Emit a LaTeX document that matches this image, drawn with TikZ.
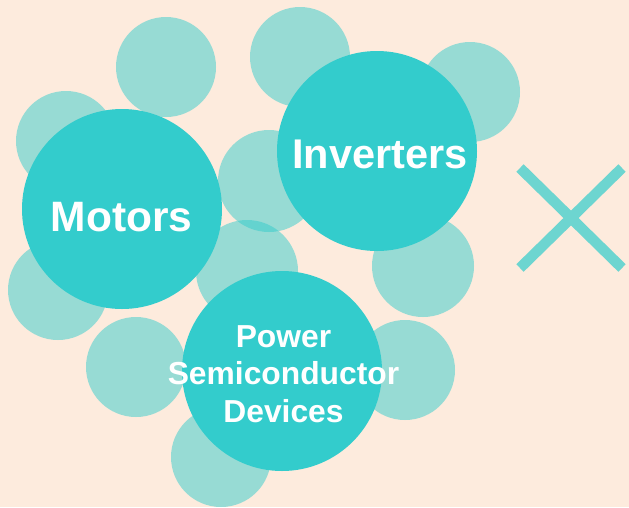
\documentclass[tikz,border=0pt]{standalone}
\usepackage{fontspec}
\setmainfont{Liberation Sans}
\definecolor{bgpeach}{HTML}{FDEBDD}
\definecolor{tealc}{HTML}{33CCCC}
\definecolor{crossc}{HTML}{6DD5D0}
\begin{document}
\begin{tikzpicture}[x=1pt,y=-1pt,
  small/.style={circle,fill=tealc,fill opacity=0.5,draw=none,minimum size=100pt,inner sep=0pt},
  big/.style={circle,fill=tealc,draw=none,minimum size=200pt,inner sep=0pt},
  lbl/.style={text=white,anchor=base,align=center,inner sep=0pt},
  cross/.style={line width=10.5pt,draw=crossc}]
\fill[bgpeach] (0,0) rectangle (629,507);
\useasboundingbox (0,0) rectangle (629,507);
% small circles
\node[small] (s1) at (166,67) {};
\node[small] (s2) at (300,57) {};
\node[small] (s3) at (470,92) {};
\node[small] (s4) at (66,141) {};
\node[small,minimum size=102pt] (s5) at (269,181) {};
\node[small,minimum size=102pt] (s6) at (247,271) {};
\node[small] (s7) at (58,290) {};
\node[small,minimum size=102pt] (s8) at (423,266) {};
\node[small] (s9) at (136,367) {};
\node[small] (s10) at (405,370) {};
\node[small] (s11) at (221,457) {};
% big circles
\node[big] (motors) at (122,209) {};
\node[big] (inverters) at (377,151) {};
\node[big] (psd) at (282,371) {};
% labels
\node[lbl,font=\fontsize{42.5}{48}\bfseries] (motorsl) at (121.5,231) {Motors};
\node[lbl,font=\fontsize{41.5}{48}\bfseries] (invertersl) at (380,168) {Inverters};
\node[lbl,font=\fontsize{31.8}{37.5}\bfseries] (psdl) at (283.5,422) {Power\\Semiconductor\\Devices};
% cross
\coordinate (xa) at (520,168);
\coordinate (xb) at (622,268);
\coordinate (xc) at (622,168);
\coordinate (xd) at (520,268);
\draw[cross] (xa) -- (xb);
\draw[cross] (xc) -- (xd);
\end{tikzpicture}
\end{document}
